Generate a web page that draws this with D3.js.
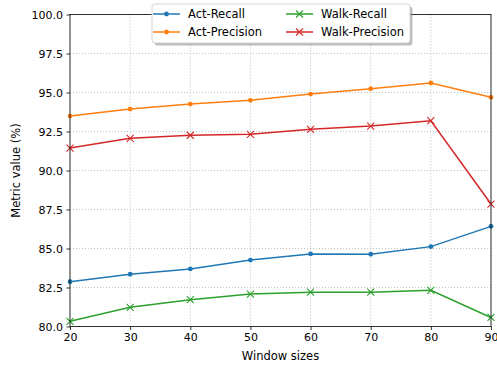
<!DOCTYPE html>
<html>
<head>
<meta charset="utf-8">
<script src="https://cdn.jsdelivr.net/npm/d3@7"></script>
<style>
  body { margin: 0; background: #fff; }
  text { font-family: "DejaVu Sans", sans-serif; }
</style>
</head>
<body>
<svg id="chart" width="497" height="365"></svg>
<script>
// données
const windowSizes = [20, 30, 40, 50, 60, 70, 80, 90]
const actRecall = [82.87, 83.35, 83.69, 84.26, 84.65, 84.63, 85.12, 86.42]
const actPrecision = [93.49, 93.94, 94.26, 94.5, 94.9, 95.24, 95.61, 94.69]
const walkRecall = [80.33, 81.23, 81.72, 82.08, 82.2, 82.2, 82.32, 80.58]
const walkPrecision = [91.44, 92.06, 92.26, 92.32, 92.64, 92.85, 93.19, 87.85]
const yTicks = [80, 82.5, 85, 87.5, 90, 92.5, 95, 97.5, 100]

const series = [
  { name: 'Act-Recall', values: actRecall, color: '#1f77b4', marker: 'dot' },
  { name: 'Act-Precision', values: actPrecision, color: '#ff7f0e', marker: 'dot' },
  { name: 'Walk-Recall', values: walkRecall, color: '#2ca02c', marker: 'x' },
  { name: 'Walk-Precision', values: walkPrecision, color: '#d62728', marker: 'x' }
]

const svg = d3.select('#chart')
const pLeft = 70, pRight = 491, pTop = 14.5, pBottom = 326.5
const fs = 11

const x = d3.scaleLinear().domain([20, 90]).range([pLeft, pRight])
const y = d3.scaleLinear().domain([80, 100]).range([pBottom, pTop])

// grille pointillée
svg.append('g')
  .selectAll('line')
  .data(windowSizes)
  .join('line')
  .attr('x1', d => x(d)).attr('x2', d => x(d))
  .attr('y1', pTop).attr('y2', pBottom)
  .attr('stroke', '#b0b0b0').attr('stroke-width', 0.8)
  .attr('stroke-dasharray', '1,2')
svg.append('g')
  .selectAll('line')
  .data(yTicks)
  .join('line')
  .attr('x1', pLeft).attr('x2', pRight)
  .attr('y1', d => y(d)).attr('y2', d => y(d))
  .attr('stroke', '#b0b0b0').attr('stroke-width', 0.8)
  .attr('stroke-dasharray', '1,2')

// axes
const xAxis = svg.append('g')
  .attr('transform', `translate(0,${pBottom})`)
  .call(d3.axisBottom(x).tickValues(windowSizes).tickSize(3.5).tickPadding(3.5))
const yAxis = svg.append('g')
  .attr('transform', `translate(${pLeft},0)`)
  .call(d3.axisLeft(y).tickValues(yTicks).tickFormat(d3.format('.1f')).tickSize(3.5).tickPadding(3.5))
for (const ax of [xAxis, yAxis]) {
  ax.select('.domain').remove()
  ax.selectAll('text').attr('font-size', fs).attr('fill', '#000').attr('font-family', 'DejaVu Sans')
  ax.selectAll('line').attr('stroke', '#000').attr('stroke-width', 0.8)
}

const line = d3.line().x((d, i) => x(windowSizes[i])).y(d => y(d))

function drawMarker(g, type, cx, cy, color) {
  if (type === 'dot') {
    g.append('circle').attr('cx', cx).attr('cy', cy).attr('r', 2.4).attr('fill', color)
  } else {
    const s = 3.5
    g.append('path')
      .attr('d', `M${cx - s},${cy - s}L${cx + s},${cy + s}M${cx - s},${cy + s}L${cx + s},${cy - s}`)
      .attr('stroke', color).attr('stroke-width', 1.1)
  }
}

const plot = svg.append('g')
series.forEach(s => {
  const g = plot.append('g')
  g.append('path')
    .datum(s.values)
    .attr('d', line)
    .attr('fill', 'none')
    .attr('stroke', s.color)
    .attr('stroke-width', 1.5)
  s.values.forEach((v, i) => drawMarker(g, s.marker, x(windowSizes[i]), y(v), s.color))
})

// cadre
svg.append('rect')
  .attr('x', pLeft).attr('y', pTop)
  .attr('width', pRight - pLeft).attr('height', pBottom - pTop)
  .attr('fill', 'none').attr('stroke', '#000').attr('stroke-width', 0.8)

// libellés
svg.append('text')
  .attr('x', (pLeft + pRight) / 2).attr('y', 360)
  .attr('text-anchor', 'middle').attr('font-size', 11.5)
  .text('Window sizes')
svg.append('text')
  .attr('transform', `translate(20,${(pTop + pBottom) / 2}) rotate(-90)`)
  .attr('text-anchor', 'middle').attr('font-size', 11.5)
  .text('Metric value (%)')

// légende avec ombre
const lg = svg.append('g')
const lx = 152, ly = 4, lw = 258, lh = 39
lg.append('rect').attr('x', lx + 2.5).attr('y', ly + 2.5).attr('width', lw).attr('height', lh)
  .attr('rx', 3).attr('fill', '#7f7f7f').attr('opacity', 0.5)
lg.append('rect').attr('x', lx).attr('y', ly).attr('width', lw).attr('height', lh)
  .attr('rx', 3).attr('fill', '#fff').attr('stroke', '#ccc').attr('stroke-width', 0.8)

const cols = [153, 286]
series.forEach((s, i) => {
  const cx = cols[Math.floor(i / 2)]
  const cy = 14 + (i % 2) * 18
  lg.append('line').attr('x1', cx).attr('x2', cx + 27).attr('y1', cy).attr('y2', cy)
    .attr('stroke', s.color).attr('stroke-width', 1.5)
  drawMarker(lg, s.marker, cx + 13.5, cy, s.color)
  lg.append('text').attr('x', cx + 35).attr('y', cy + 4)
    .attr('font-size', 11.5).text(s.name)
})
</script>
</body>
</html>
